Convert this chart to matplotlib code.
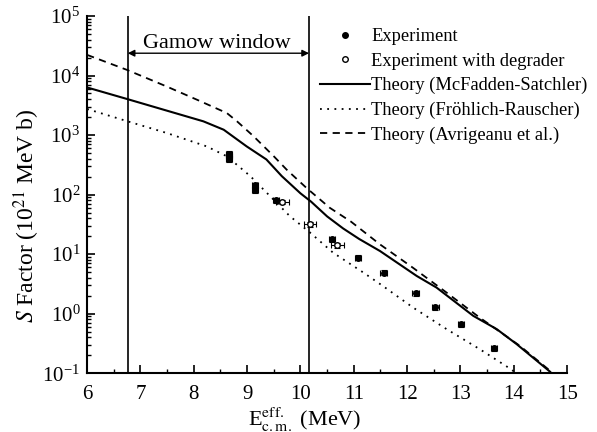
import matplotlib
matplotlib.use("Agg")
import matplotlib.pyplot as plt
from matplotlib.lines import Line2D
from matplotlib.ticker import MultipleLocator, LogLocator, NullFormatter

plt.rcParams['font.family'] = ['Liberation Serif', 'DejaVu Serif']
plt.rcParams['mathtext.fontset'] = 'stix'

# Theory curves
E_ms = [6.0, 6.75, 8.18, 8.56, 8.99, 9.36, 9.65, 10.0, 10.2, 10.5, 10.8, 11.1,
        11.49, 12.18, 12.55, 13.24, 13.68, 14.05, 14.68]
S_ms = [6300, 4030, 1700, 1230, 646, 390, 204, 105, 76, 43, 27, 18,
        11.3, 4.3, 2.75, 0.92, 0.55, 0.31, 0.106]

E_fr = [6.0, 6.76, 7.49, 8.24, 8.62, 9.06, 9.80, 10.18, 10.61, 11.18, 11.55, 12.11,
        12.74, 13.36, 13.89, 14.05]
S_fr = [2740, 1700, 1085, 646, 440, 204, 43.5, 23, 10.6, 4.9, 2.9, 1.27,
        0.55, 0.254, 0.126, 0.1]

E_av = [6.0, 6.75, 7.49, 8.06, 8.62, 8.81, 9.12, 9.50, 9.74, 10.11, 10.55, 10.95,
        11.49, 12.11, 12.74, 13.36, 14.11, 14.68]
S_av = [22200, 12400, 6550, 3920, 2340, 1700, 955, 440, 263, 130, 60, 35,
        14.6, 5.9, 2.26, 0.86, 0.29, 0.11]

# Experiment
E_exp = [8.66, 8.66, 8.66, 9.15, 9.15, 9.54, 10.59, 11.08, 11.56, 12.16, 12.53, 13.01, 13.63]
S_exp = [490, 440, 395, 145, 120, 80, 17.7, 8.7, 4.9, 2.2, 1.28, 0.667, 0.264]
E_deg = [9.66, 10.18, 10.69]
S_deg = [75, 31.5, 14]

gamow = [6.76, 10.16]

fig = plt.figure(figsize=(5.97, 4.32), dpi=100)
ax = fig.add_axes([0.146, 0.136, 0.804, 0.827])

ax.errorbar(E_exp, S_exp, xerr=0.06, yerr=[[s * 0.1 for s in S_exp], [s * 0.1 for s in S_exp]],
            fmt='o', color='black', ms=4, elinewidth=0.8, capsize=2.5, capthick=0.8)
ax.errorbar(E_deg, S_deg, xerr=0.12, yerr=[[s * 0.08 for s in S_deg], [s * 0.08 for s in S_deg]],
            fmt='o', color='black', mfc='white', ms=4, elinewidth=0.8, capsize=2.5, capthick=0.8)
ax.plot(E_ms, S_ms, '-', color='black', lw=1.5)
ax.plot(E_fr, S_fr, color='black', lw=1.3, linestyle=(0, (1, 3)))
ax.plot(E_av, S_av, color='black', lw=1.3, linestyle=(0, (4, 3)))

for g in gamow:
    ax.axvline(g, color='black', lw=1.2)
ax.annotate('', xy=(gamow[0], 2.37e4), xytext=(gamow[1], 2.37e4),
            arrowprops=dict(arrowstyle='<|-|>', color='black', lw=1.0,
                            mutation_scale=10, shrinkA=0, shrinkB=0))
ax.text(8.43, 3.45e4, 'Gamow window', ha='center', va='center', fontsize=16)

ax.set_xlim(6, 15)
ax.set_ylim(0.1, 1e5)
ax.set_yscale('log')
ax.xaxis.set_major_locator(MultipleLocator(1))
ax.xaxis.set_minor_locator(MultipleLocator(0.5))
ax.yaxis.set_major_locator(LogLocator(base=10, numticks=10))
ax.yaxis.set_minor_locator(LogLocator(base=10, subs=range(2, 10), numticks=20))
ax.yaxis.set_minor_formatter(NullFormatter())

for s in ['top', 'right']:
    ax.spines[s].set_visible(False)
for s in ['left', 'bottom']:
    ax.spines[s].set_linewidth(1.5)
ax.tick_params(which='major', direction='in', length=6, width=1.2, labelsize=15)
ax.tick_params(which='minor', direction='in', length=3, width=1.0)
ax.tick_params(axis='x', pad=8.5)
ax.tick_params(axis='y', pad=5)

ax.set_xlabel(r'E$^{\rm eff.}_{\rm c.m.}$ (MeV)', fontsize=16)
ax.xaxis.set_label_coords(0.453, -0.09)
ax.set_ylabel(r'$S$ Factor (10$^{21}$ MeV b)', fontsize=17)
ax.yaxis.set_label_coords(-0.094, 0.44)

handles = [
    Line2D([], [], marker='o', ls='none', color='black', ms=4),
    Line2D([], [], marker='o', ls='none', color='black', mfc='white', ms=4),
    Line2D([], [], ls='-', color='black', lw=1.5),
    Line2D([], [], color='black', lw=1.3, linestyle=(0, (1, 3))),
    Line2D([], [], color='black', lw=1.3, linestyle=(0, (4, 3))),
]
labels = ['Experiment', 'Experiment with degrader', 'Theory (McFadden-Satchler)',
          'Theory (Fröhlich-Rauscher)', 'Theory (Avrigeanu et al.)']
ax.legend(handles, labels, loc='upper left', bbox_to_anchor=(0.52, 0.956),
          bbox_transform=fig.transFigure, frameon=False, fontsize=13.3,
          handlelength=2.7, handletextpad=0.1, labelspacing=0.4, borderpad=0)

fig.savefig('out.png', dpi=100)
